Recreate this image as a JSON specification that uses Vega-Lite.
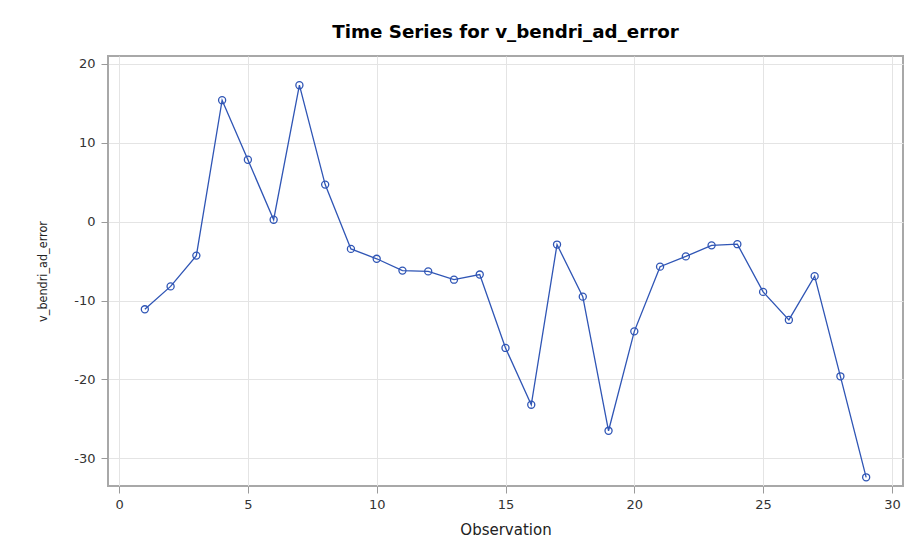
{
  "$schema": "https://vega.github.io/schema/vega-lite/v6.json",
  "autosize": "none",
  "width": 795,
  "height": 430,
  "padding": {"left": 108, "top": 56, "right": 4, "bottom": 60},
  "background": "white",
  "title": {
    "text": "Time Series for v_bendri_ad_error",
    "font": "DejaVu Sans",
    "fontSize": 18.3,
    "fontWeight": "bold",
    "color": "#000000",
    "anchor": "middle",
    "offset": 14
  },
  "config": {
    "view": {"stroke": "#a8a8a8", "strokeWidth": 2},
    "axis": {
      "gridColor": "#e4e4e4",
      "gridWidth": 1,
      "domain": false,
      "tickColor": "#9a9a9a",
      "tickSize": 7,
      "labelFont": "DejaVu Sans",
      "labelFontSize": 13,
      "labelColor": "#333333",
      "titleFont": "DejaVu Sans",
      "titleFontSize": 15,
      "titleFontWeight": "normal",
      "titleColor": "#222222"
    }
  },
  "data": {
    "values": [
      {"obs": 1, "v": -11.1},
      {"obs": 2, "v": -8.2},
      {"obs": 3, "v": -4.3},
      {"obs": 4, "v": 15.4},
      {"obs": 5, "v": 7.85},
      {"obs": 6, "v": 0.25},
      {"obs": 7, "v": 17.3},
      {"obs": 8, "v": 4.7},
      {"obs": 9, "v": -3.45},
      {"obs": 10, "v": -4.7},
      {"obs": 11, "v": -6.2},
      {"obs": 12, "v": -6.3},
      {"obs": 13, "v": -7.35},
      {"obs": 14, "v": -6.7},
      {"obs": 15, "v": -16.0},
      {"obs": 16, "v": -23.2},
      {"obs": 17, "v": -2.9},
      {"obs": 18, "v": -9.5},
      {"obs": 19, "v": -26.5},
      {"obs": 20, "v": -13.9},
      {"obs": 21, "v": -5.7},
      {"obs": 22, "v": -4.4},
      {"obs": 23, "v": -3.0},
      {"obs": 24, "v": -2.85},
      {"obs": 25, "v": -8.9},
      {"obs": 26, "v": -12.45},
      {"obs": 27, "v": -6.9},
      {"obs": 28, "v": -19.6},
      {"obs": 29, "v": -32.4}
    ]
  },
  "encoding": {
    "x": {
      "field": "obs",
      "type": "quantitative",
      "scale": {"domain": [-0.43, 30.43], "nice": false, "zero": false},
      "axis": {"values": [0, 5, 10, 15, 20, 25, 30], "title": "Observation", "titlePadding": 11, "labelPadding": 5}
    },
    "y": {
      "field": "v",
      "type": "quantitative",
      "scale": {"domain": [-33.5, 21.0], "nice": false, "zero": false},
      "axis": {
        "values": [-30, -20, -10, 0, 10, 20],
        "labelExpr": "replace(datum.label, '\u2212', '-')",
        "title": "v_bendri_ad_error",
        "titleFont": "DejaVu Sans Condensed",
        "titleFontSize": 12.5,
        "titlePadding": 24,
        "labelPadding": 6
      }
    }
  },
  "layer": [
    {"mark": {"type": "line", "color": "#2f55b5", "strokeWidth": 1.3}},
    {"mark": {"type": "point", "shape": "circle", "filled": false, "color": "#2f55b5", "size": 50, "strokeWidth": 1.3, "opacity": 1}}
  ]
}
